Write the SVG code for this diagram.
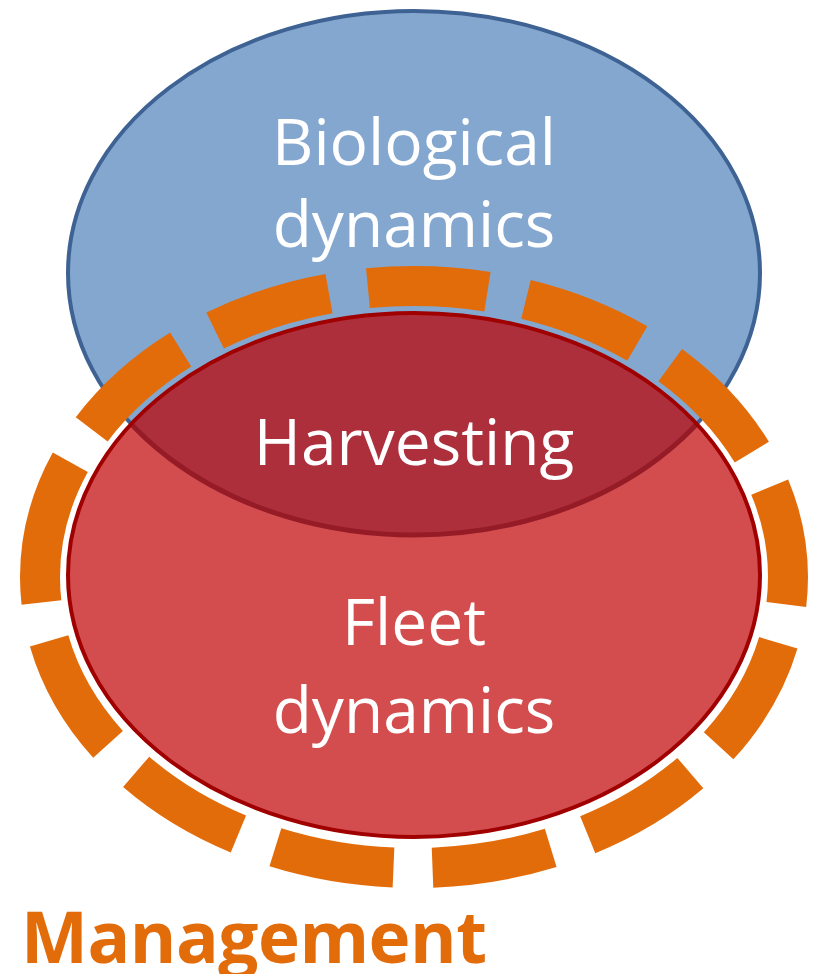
<svg xmlns="http://www.w3.org/2000/svg" width="813" height="974" viewBox="0 0 813 974">
  <style>
    .label { font-family: "Open Sans", "Noto Sans", sans-serif; font-size: 64px; fill: #ffffff; text-anchor: middle; }
    .mgmt { font-family: "Open Sans", "Noto Sans", sans-serif; font-size: 71px; font-weight: bold; fill: #E36C0A; }
    .ring { fill: none; stroke: #E36C0A; stroke-width: 40; stroke-dasharray: 120 39.3; }
  </style>
  <defs>
    <clipPath id="fleetClip">
      <ellipse cx="414" cy="575" rx="346" ry="262"/>
    </clipPath>
  </defs>

  <!-- Biological dynamics -->
  <g id="biological">
    <ellipse cx="414" cy="273" rx="346" ry="262" fill="#84A7CF" stroke="#3D6293" stroke-width="4"/>
    <text class="label" x="414" y="165">Biological</text>
    <text class="label" x="414" y="247">dynamics</text>
  </g>

  <!-- Management: dashed ring around the fleet, starting at its left point and running clockwise -->
  <g id="management">
    <path class="ring" d="M 40 577 A 374 291 0 0 1 788 577 A 374 291 0 0 1 40 577"/>
    <text class="mgmt" x="21" y="963" textLength="466">Management</text>
  </g>

  <!-- Fleet dynamics -->
  <g id="fleet">
    <ellipse cx="414" cy="575" rx="346" ry="262" fill="#D34D4F"/>
  </g>

  <!-- Harvesting: overlap of the two ellipses -->
  <g id="harvesting">
    <ellipse cx="414" cy="273" rx="346" ry="262" fill="#AE2F3C" stroke="#951B27" stroke-width="5" clip-path="url(#fleetClip)"/>
    <text class="label" x="414" y="465">Harvesting</text>
  </g>

  <g id="fleet-outline">
    <ellipse cx="414" cy="575" rx="346" ry="262" fill="none" stroke="#A00000" stroke-width="4"/>
    <text class="label" x="414" y="645">Fleet</text>
    <text class="label" x="414" y="733">dynamics</text>
  </g>
</svg>
